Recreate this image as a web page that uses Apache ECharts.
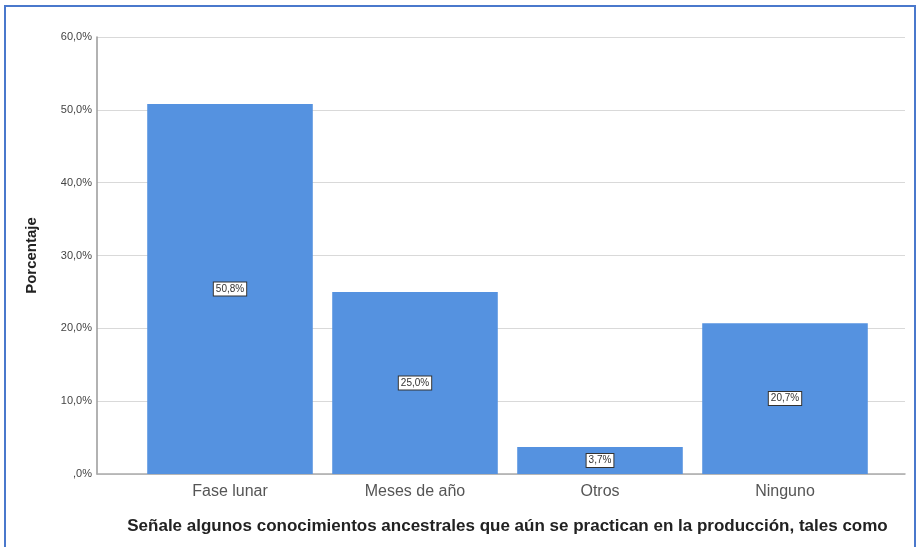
<!DOCTYPE html>
<html><head><meta charset="utf-8">
<script src="https://cdn.jsdelivr.net/npm/echarts@6/dist/echarts.min.js"></script>
<style>
html,body{margin:0;padding:0;background:#fff;overflow:hidden}
#frame{position:absolute;left:4px;top:5px;width:912px;height:570px;border:2px solid #4a78cc;box-sizing:border-box}
#c{position:absolute;left:0;top:0;width:920px;height:547px}
</style></head>
<body>
<div id="frame"></div>
<div id="c"></div>
<script>
const categories = ['Fase lunar', 'Meses de año', 'Otros', 'Ninguno'];
const values = [50.8, 25.0, 3.7, 20.7];
const yTicks = [0, 10, 20, 30, 40, 50, 60];
const yAxisTitle = 'Porcentaje';
const xAxisTitle = 'Señale algunos conocimientos ancestrales que aún se practican en la producción, tales como';

const fmt = v => (v === 0 ? ',0%' : v.toFixed(1).replace('.', ',') + '%');
const chart = echarts.init(document.getElementById('c'), null, {renderer: 'canvas'});
chart.setOption({
  animation: false,
  grid: [
    {left: 97, right: 15, top: 37, bottom: 73},
    {left: 137.5, right: 42.5, top: 37, bottom: 73}
  ],
  xAxis: [
    {gridIndex: 0, type: 'value', min: 0, max: 1, show: true,
     axisLine: {show: true, lineStyle: {color: '#aaaaaa', width: 1.5}},
     axisTick: {show: false}, axisLabel: {show: false}, splitLine: {show: false}},
    {gridIndex: 1, type: 'category', data: categories,
     axisLine: {show: false}, axisTick: {show: false},
     axisLabel: {color: '#555', fontSize: 16, fontFamily: 'Liberation Sans, Arial', margin: 10},
     name: xAxisTitle, nameLocation: 'middle', nameGap: 44,
     nameTextStyle: {fontWeight: 'bold', fontSize: 17, color: '#222', fontFamily: 'Liberation Sans, Arial'}}
  ],
  yAxis: [
    {gridIndex: 0, type: 'value', min: yTicks[0], max: yTicks[yTicks.length - 1], interval: 10,
     axisLine: {show: true, lineStyle: {color: '#999999', width: 1.5}},
     axisTick: {show: false},
     axisLabel: {formatter: fmt, fontSize: 11, color: '#444', margin: 5, fontFamily: 'Liberation Sans, Arial'},
     splitLine: {show: true, lineStyle: {color: '#d9d9d9', width: 1}},
     name: yAxisTitle, nameLocation: 'middle', nameGap: 58, nameRotate: 90,
     nameTextStyle: {fontWeight: 'bold', fontSize: 15, color: '#222', fontFamily: 'Liberation Sans, Arial'}},
    {gridIndex: 1, type: 'value', min: yTicks[0], max: yTicks[yTicks.length - 1], show: false}
  ],
  series: [{
    type: 'bar', xAxisIndex: 1, yAxisIndex: 1, data: values,
    barCategoryGap: '10.5%',
    itemStyle: {color: '#5592e0'},
    label: {show: true, position: 'inside', formatter: p => fmt(p.value),
      fontSize: 10, color: '#333', backgroundColor: '#fff', borderColor: '#333', borderWidth: 1,
      padding: [2, 2, 1, 2], fontFamily: 'Liberation Sans, Arial'}
  }]
});
</script>
</body></html>
